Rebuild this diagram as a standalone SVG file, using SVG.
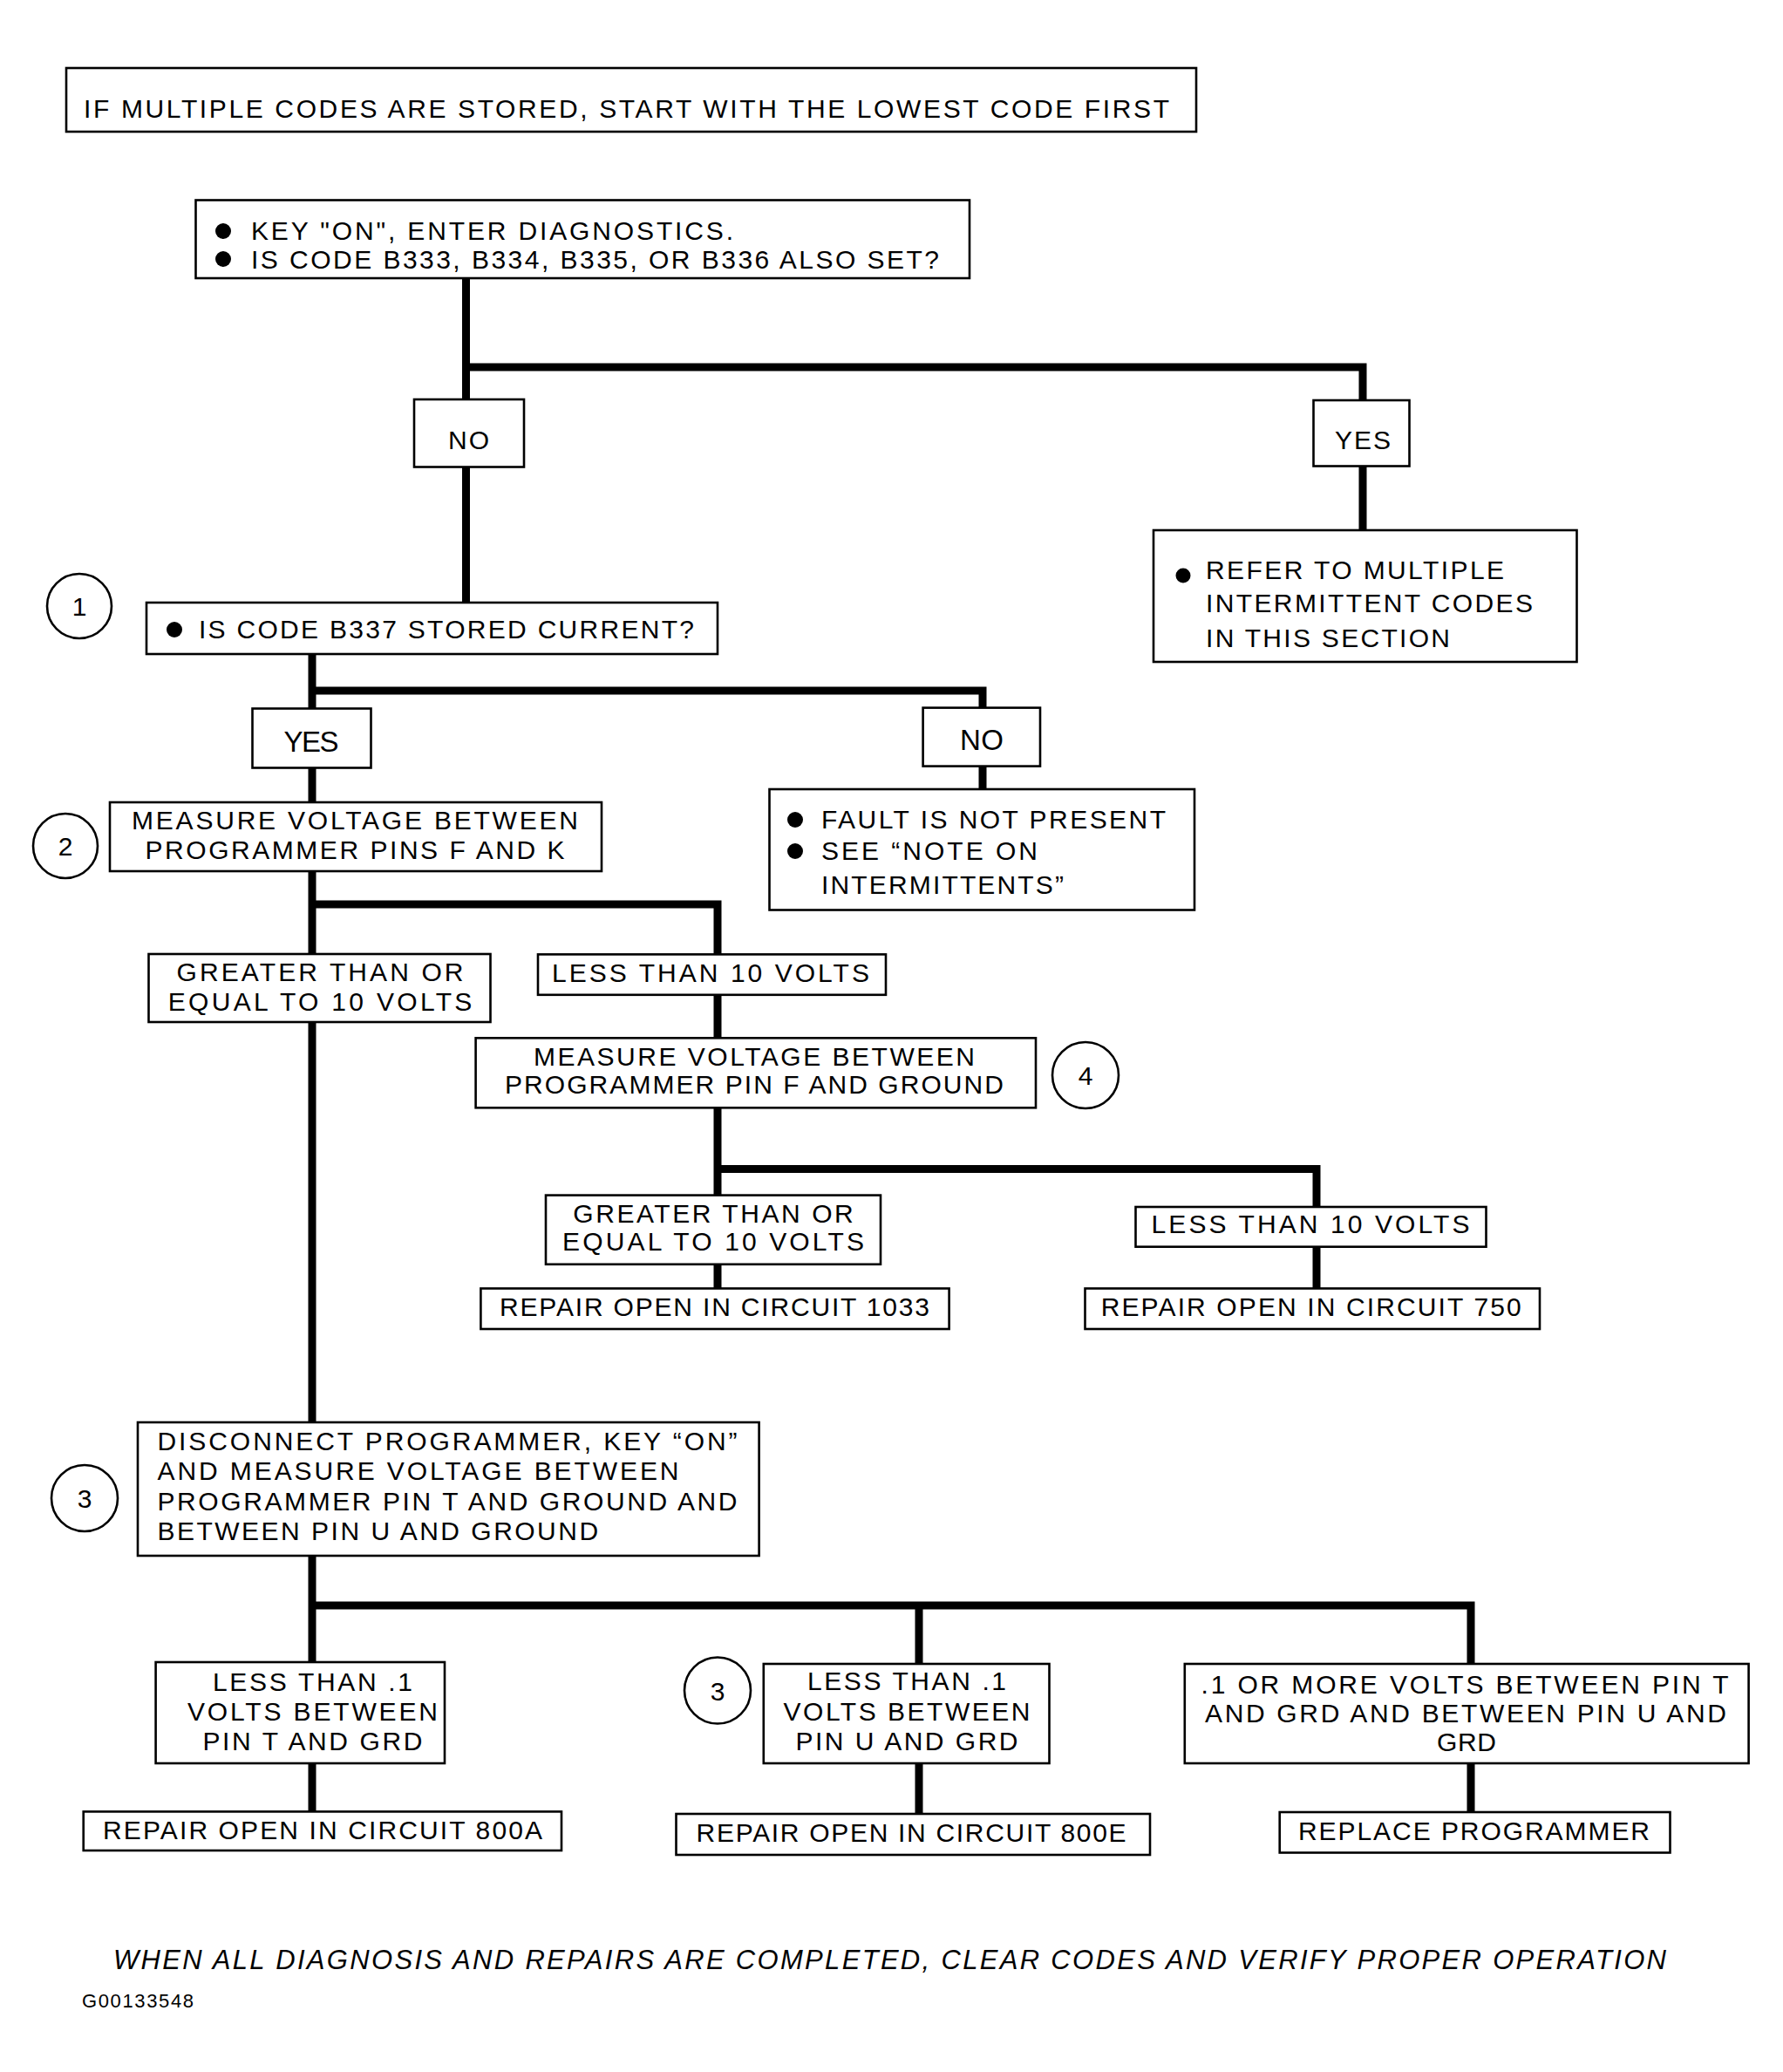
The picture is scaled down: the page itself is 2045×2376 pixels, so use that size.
<svg xmlns="http://www.w3.org/2000/svg" width="2045" height="2376" viewBox="0 0 2045 2376">
<style>
.bg{fill:#fff}
.box{fill:#fff;stroke:#000;stroke-width:2.6}
.num{fill:#fff;stroke:#000;stroke-width:2.6}
.t{font-family:"Liberation Sans",Arial,Helvetica,sans-serif;font-size:30px;fill:#000}
.big{font-size:33px}
.c{text-anchor:middle}
.dot{fill:#000}
.wire{fill:none;stroke:#000;stroke-width:9;stroke-linejoin:miter;stroke-linecap:butt}
.foot{font-family:"Liberation Sans",Arial,Helvetica,sans-serif;font-size:31px;font-style:italic;fill:#000}
.code{font-family:"Liberation Sans",Arial,Helvetica,sans-serif;font-size:22px;fill:#000}
</style>
<rect class="bg" x="0" y="0" width="2045" height="2376"/>

<g id="connectors">
<path class="wire" d="M534.5,319 V691"/>
<path class="wire" d="M534.5,421 H1563 V608"/>
<path class="wire" d="M358,750 V2078"/>
<path class="wire" d="M358,792 H1127 V905"/>
<path class="wire" d="M358,1037 H823 V1477.5"/>
<path class="wire" d="M823,1340.6 H1510 V1477.5"/>
<path class="wire" d="M358,1841 H1687 V2078"/>
<path class="wire" d="M1054,1841 V2080"/>
</g>

<g id="header">
<rect class="box" x="76" y="78" width="1296" height="73"/>
<text class="t" x="96" y="135" textLength="1245">IF MULTIPLE CODES ARE STORED, START WITH THE LOWEST CODE FIRST</text>
</g>

<g id="key-on">
<rect class="box" x="224.5" y="229.5" width="887.5" height="89.5"/>
<circle class="dot" cx="256" cy="265" r="9"/>
<circle class="dot" cx="256" cy="297" r="9"/>
<text class="t" x="288" y="275" textLength="553">KEY "ON", ENTER DIAGNOSTICS.</text>
<text class="t" x="288" y="307.5" textLength="789">IS CODE B333, B334, B335, OR B336 ALSO SET?</text>
</g>

<g id="no-1">
<rect class="box" x="475" y="458" width="126" height="77.5"/>
<text class="t" x="537.5" y="515" textLength="47" text-anchor="middle">NO</text>
</g>

<g id="yes-1">
<rect class="box" x="1506.5" y="459" width="110" height="75.5"/>
<text class="t c" x="1563" y="515" textLength="64">YES</text>
</g>

<g id="refer">
<rect class="box" x="1323" y="608" width="485.5" height="151"/>
<circle class="dot" cx="1357" cy="660" r="8.5"/>
<text class="t" x="1383" y="664" textLength="342">REFER TO MULTIPLE</text>
<text class="t" x="1383" y="701.5" textLength="375">INTERMITTENT CODES</text>
<text class="t" x="1383" y="742" textLength="280">IN THIS SECTION</text>
</g>

<g id="step-1">
<circle class="num" cx="91" cy="695" r="37"/>
<text class="t c" x="91" y="706">1</text>
</g>

<g id="b337">
<rect class="box" x="168" y="691" width="655" height="59"/>
<circle class="dot" cx="200" cy="722" r="9"/>
<text class="t" x="228" y="732" textLength="568">IS CODE B337 STORED CURRENT?</text>
</g>

<g id="yes-2">
<rect class="box" x="289.5" y="812.5" width="136" height="68"/>
<text class="t big c" x="357" y="862" textLength="63">YES</text>
</g>

<g id="no-2">
<rect class="box" x="1058.6" y="811.6" width="134.4" height="67"/>
<text class="t big c" x="1126" y="860" textLength="50">NO</text>
</g>

<g id="fault">
<rect class="box" x="882.5" y="905" width="487.5" height="138.5"/>
<circle class="dot" cx="912" cy="940" r="9"/>
<circle class="dot" cx="912" cy="976" r="9"/>
<text class="t" x="942" y="950" textLength="395">FAULT IS NOT PRESENT</text>
<text class="t" x="942" y="986" textLength="248">SEE “NOTE ON</text>
<text class="t" x="942" y="1025" textLength="278">INTERMITTENTS”</text>
</g>

<g id="measure-fk">
<rect class="box" x="126" y="920" width="564" height="79"/>
<text class="t c" x="407" y="951" textLength="512">MEASURE VOLTAGE BETWEEN</text>
<text class="t c" x="407" y="985" textLength="481">PROGRAMMER PINS F AND K</text>
</g>

<g id="step-2">
<circle class="num" cx="75" cy="970" r="37"/>
<text class="t c" x="75" y="981">2</text>
</g>

<g id="greater-1">
<rect class="box" x="170.5" y="1094" width="392" height="78"/>
<text class="t c" x="367" y="1124.6" textLength="329">GREATER THAN OR</text>
<text class="t c" x="367" y="1158.5" textLength="348.6">EQUAL TO 10 VOLTS</text>
</g>

<g id="less-1">
<rect class="box" x="617" y="1094.4" width="399" height="46.4"/>
<text class="t c" x="815" y="1125.5" textLength="364">LESS THAN 10 VOLTS</text>
</g>

<g id="measure-f">
<rect class="box" x="545.6" y="1190.3" width="642.4" height="80"/>
<text class="t c" x="865" y="1222" textLength="506">MEASURE VOLTAGE BETWEEN</text>
<text class="t c" x="865" y="1254" textLength="572">PROGRAMMER PIN F AND GROUND</text>
</g>

<g id="step-4">
<circle class="num" cx="1245" cy="1233" r="38"/>
<text class="t c" x="1245" y="1244">4</text>
</g>

<g id="greater-2">
<rect class="box" x="626" y="1370.6" width="384" height="79.2"/>
<text class="t c" x="818" y="1402" textLength="321.5">GREATER THAN OR</text>
<text class="t c" x="818" y="1434" textLength="345.8">EQUAL TO 10 VOLTS</text>
</g>

<g id="less-2">
<rect class="box" x="1302.5" y="1384" width="402" height="45.7"/>
<text class="t c" x="1503" y="1414" textLength="365">LESS THAN 10 VOLTS</text>
</g>

<g id="repair-1033">
<rect class="box" x="551.4" y="1477.5" width="537.2" height="46.5"/>
<text class="t" x="573" y="1509" textLength="493">REPAIR OPEN IN CIRCUIT 1033</text>
</g>

<g id="repair-750">
<rect class="box" x="1244.5" y="1477.5" width="521.5" height="46.5"/>
<text class="t" x="1262.7" y="1509" textLength="482">REPAIR OPEN IN CIRCUIT 750</text>
</g>

<g id="disconnect">
<rect class="box" x="158" y="1631" width="712.6" height="153"/>
<text class="t" x="180.5" y="1663.3" textLength="665">DISCONNECT PROGRAMMER, KEY “ON”</text>
<text class="t" x="180.5" y="1697" textLength="598">AND MEASURE VOLTAGE BETWEEN</text>
<text class="t" x="180.5" y="1731.5" textLength="665">PROGRAMMER PIN T AND GROUND AND</text>
<text class="t" x="180.5" y="1765.5" textLength="505.6">BETWEEN PIN U AND GROUND</text>
</g>

<g id="step-3a">
<circle class="num" cx="97" cy="1718" r="38"/>
<text class="t c" x="97" y="1729">3</text>
</g>

<g id="less-t">
<rect class="box" x="178.6" y="1906" width="331.4" height="116"/>
<text class="t c" x="358.5" y="1939" textLength="229">LESS THAN .1</text>
<text class="t c" x="358.5" y="1973" textLength="287">VOLTS BETWEEN</text>
<text class="t c" x="358.5" y="2007" textLength="252">PIN T AND GRD</text>
</g>

<g id="less-u">
<rect class="box" x="875.8" y="1908" width="327.7" height="114"/>
<text class="t c" x="1040" y="1938" textLength="228">LESS THAN .1</text>
<text class="t c" x="1040" y="1973" textLength="283">VOLTS BETWEEN</text>
<text class="t c" x="1040" y="2007" textLength="255">PIN U AND GRD</text>
</g>

<g id="step-3b">
<circle class="num" cx="823" cy="1938.5" r="38"/>
<text class="t c" x="823" y="1949.5">3</text>
</g>

<g id="more">
<rect class="box" x="1358.8" y="1908" width="646.8" height="114"/>
<text class="t c" x="1680" y="1942" textLength="605">.1 OR MORE VOLTS BETWEEN PIN T</text>
<text class="t c" x="1681" y="1975" textLength="598">AND GRD AND BETWEEN PIN U AND</text>
<text class="t c" x="1682" y="2008" textLength="68">GRD</text>
</g>

<g id="repair-800a">
<rect class="box" x="95.7" y="2077.4" width="548.3" height="44.6"/>
<text class="t" x="118" y="2108.5" textLength="504">REPAIR OPEN IN CIRCUIT 800A</text>
</g>

<g id="repair-800e">
<rect class="box" x="775.5" y="2080" width="543.5" height="47"/>
<text class="t" x="798.6" y="2112" textLength="493">REPAIR OPEN IN CIRCUIT 800E</text>
</g>

<g id="replace">
<rect class="box" x="1467.7" y="2078" width="447.8" height="46.5"/>
<text class="t" x="1489" y="2110" textLength="403">REPLACE PROGRAMMER</text>
</g>

<g id="footer">
<text class="foot" x="130" y="2258" textLength="1781">WHEN ALL DIAGNOSIS AND REPAIRS ARE COMPLETED, CLEAR CODES AND VERIFY PROPER OPERATION</text>
<text class="code" x="94" y="2302" textLength="128">G00133548</text>
</g>
</svg>
